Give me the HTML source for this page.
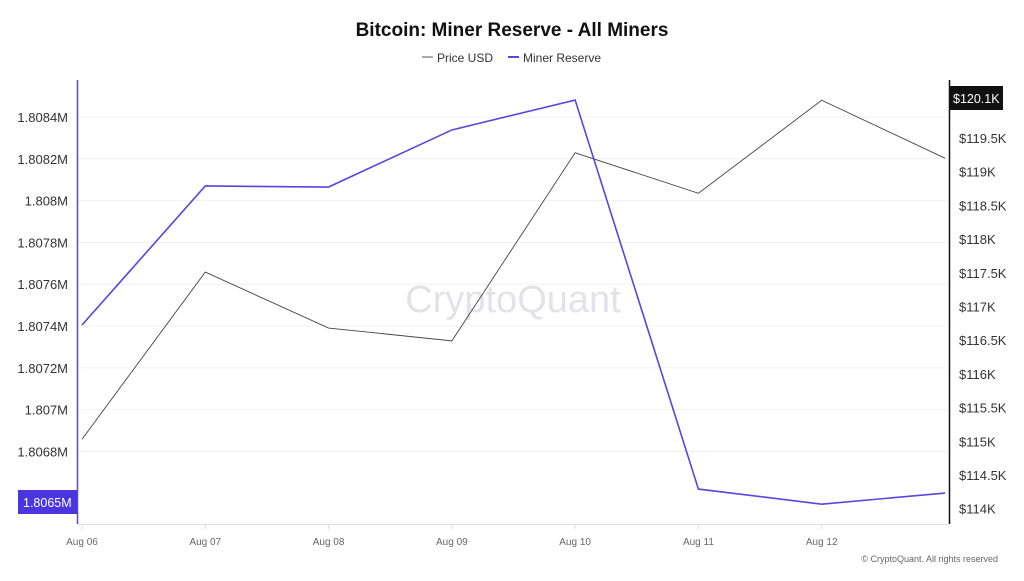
<!DOCTYPE html>
<html><head><meta charset="utf-8"><style>
body{margin:0;background:#fff;font-family:"Liberation Sans",sans-serif;}
svg text{font-family:"Liberation Sans",sans-serif;}
</style></head><body>
<svg id="chart" width="1024" height="576" xmlns="http://www.w3.org/2000/svg">
<text x="512" y="36" text-anchor="middle" font-size="19" font-weight="bold" fill="#111">Bitcoin: Miner Reserve - All Miners</text>
<g>
<g><line x1="422" y1="57" x2="433" y2="57" stroke="#555" stroke-width="1"/><text x="437" y="62" font-size="12" fill="#333">Price USD</text></g>
<g><line x1="508" y1="57" x2="519" y2="57" stroke="#5a45e0" stroke-width="2"/><text x="523" y="62" font-size="12" fill="#333">Miner Reserve</text></g>
</g>
<text x="513" y="312" text-anchor="middle" font-size="38" fill="#e2e2e8">CryptoQuant</text>
<g id="grid"></g><g id="axes"></g><g id="series"></g>
<text x="998" y="562" text-anchor="end" font-size="9" fill="#666">© CryptoQuant. All rights reserved</text>
</svg>
<script>
const categories=["Aug 06","Aug 07","Aug 08","Aug 09","Aug 10","Aug 11","Aug 12",""];
const reserveValues=[1.807405,1.80807,1.808065,1.808338,1.808481,1.80662,1.806548,1.806601];
const priceValues=[115.03,117.51,116.68,116.49,119.28,118.68,120.06,119.20];
const leftTicks=[1.8068,1.807,1.8072,1.8074,1.8076,1.8078,1.808,1.8082,1.8084];
const leftTickLabels=["1.8068M","1.807M","1.8072M","1.8074M","1.8076M","1.8078M","1.808M","1.8082M","1.8084M"];
const rightTicks=[114,114.5,115,115.5,116,116.5,117,117.5,118,118.5,119,119.5];
const rightTickLabels=["$114K","$114.5K","$115K","$115.5K","$116K","$116.5K","$117K","$117.5K","$118K","$118.5K","$119K","$119.5K"];
const NS="http://www.w3.org/2000/svg";
const x0=82,x1=945,yT=80,yB=524;
const xS=i=>x0+(x1-x0)*i/(categories.length-1);
const lMin=1.806453,lMax=1.808577,rMin=113.773,rMax=120.36;
const yL=v=>yB-(v-lMin)/(lMax-lMin)*(yB-yT);
const yR=v=>yB-(v-rMin)/(rMax-rMin)*(yB-yT);
function mk(t,a,p){const e=document.createElementNS(NS,t);for(const k in a)e.setAttribute(k,a[k]);p.appendChild(e);return e;}
const grid=document.getElementById('grid'),axes=document.getElementById('axes'),ser=document.getElementById('series');
leftTicks.forEach((v,i)=>{const g=mk('line',{x1:78,x2:948,y1:yL(v),y2:yL(v),stroke:'#f0f0f0'},grid);

const t=mk('text',{x:68,y:yL(v)+5,'text-anchor':'end','font-size':13,fill:'#333'},axes);t.textContent=leftTickLabels[i];
});
rightTicks.forEach((v,i)=>{const t=mk('text',{x:959,y:yR(v)+5,'font-size':13,fill:'#333'},axes);t.textContent=rightTickLabels[i];
});
categories.forEach((c,i)=>{if(!c)return;const t=mk('text',{x:xS(i),y:545,'text-anchor':'middle','font-size':10,fill:'#666'},axes);t.textContent=c;

const tk=mk('line',{x1:xS(i),x2:xS(i),y1:524,y2:529,stroke:'#ddd'},axes);});
let l=mk('line',{x1:78,x2:948,y1:524.5,y2:524.5,stroke:'#e0e0e0'},axes);
l=mk('line',{x1:77.5,x2:77.5,y1:80,y2:524,stroke:'#5a45e0','stroke-width':1.5},axes);
l=mk('line',{x1:949.5,x2:949.5,y1:80,y2:524,stroke:'#111','stroke-width':1.5},axes);
let p=mk('polyline',{points:priceValues.map((v,i)=>xS(i)+','+yR(v)).join(' '),fill:'none',stroke:'#444','stroke-width':0.9},ser);

p=mk('polyline',{points:reserveValues.map((v,i)=>xS(i)+','+yL(v)).join(' '),fill:'none',stroke:'#5a45e0','stroke-width':1.6},ser);

let r=mk('rect',{x:18,y:490,width:59,height:24,fill:'#4a35e0'},axes);
let t=mk('text',{x:23,y:507,'font-size':12.5,fill:'#fff'},axes);t.textContent='1.8065M';
r=mk('rect',{x:950,y:86,width:53,height:24,fill:'#111'},axes);
t=mk('text',{x:953,y:103,'font-size':12.5,fill:'#fff'},axes);t.textContent='$120.1K';
</script>
</body></html>
